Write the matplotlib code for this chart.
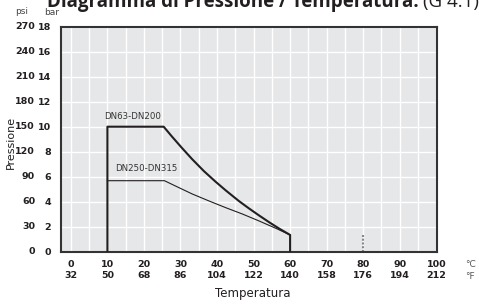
import matplotlib.pyplot as plt

# data
bar_ticks = [0, 2, 4, 6, 8, 10, 12, 14, 16, 18]
psi_labels = ['0', '30', '60', '90', '120', '150', '180', '210', '240', '270']
temp_c = [0, 10, 20, 30, 40, 50, 60, 70, 80, 90, 100]
temp_f = ['32', '50', '68', '86', '104', '122', '140', '158', '176', '194', '212']

# DN63-DN200 curve (°C, bar)
dn63_t = [10, 10, 25.4, 27.7, 30.4, 33.2, 36.4, 39.6, 42.4, 46.0, 48.8, 51.5, 54.3, 57.0, 60, 60]
dn63_p = [0, 10, 10, 9.2, 8.3, 7.4, 6.45, 5.6, 4.9, 4.05, 3.45, 2.9, 2.35, 1.85, 1.34, 0]
# DN250-DN315 curve (°C, bar)
dn250_t = [10, 25.6, 28.6, 33.2, 37.8, 42.4, 46.9, 51.5, 56.1, 60]
dn250_p = [5.68, 5.68, 5.26, 4.62, 4.06, 3.52, 3.02, 2.46, 1.87, 1.34]

fig = plt.figure(figsize=(4.79, 3.04), dpi=100)
ax = fig.add_axes([61 / 479, 1 - 251.7 / 304, 376 / 479, 225 / 304])
ax.set_facecolor('#e6e7e8')

ax.set_xlim(-2.7, 100.2)
ax.set_ylim(0, 18)

# white grid every 5 °C and every 2 bar
for t in range(0, 101, 5):
    ax.axvline(t, color='white', linewidth=1.0, zorder=1)
for b in bar_ticks:
    ax.axhline(b, color='white', linewidth=1.0, zorder=1)

line_color = '#231f20'
ax.plot(dn63_t, dn63_p, color=line_color, linewidth=1.5, zorder=3,
        solid_joinstyle='round')
ax.plot(dn250_t, dn250_p, color=line_color, linewidth=0.8, zorder=3,
        solid_joinstyle='round')
ax.plot([80, 80], [0, 1.3], color='#888888', linewidth=1.5,
        linestyle=(0, (1, 0.8)), zorder=2)

ax.text(9.0, 10.85, 'DN63-DN200', fontsize=6.2, color='#333333', va='center', ha='left')
ax.text(12.2, 6.65, 'DN250-DN315', fontsize=6.2, color='#333333', va='center', ha='left')

for s in ax.spines.values():
    s.set_color('#333333')
    s.set_linewidth(1.5)

ax.set_xticks(temp_c)
ax.set_xticklabels([f'{c}\n{f}' for c, f in zip(temp_c, temp_f)],
                   fontsize=6.8, fontweight='bold', linespacing=1.3)
ax.set_yticks(bar_ticks)
ax.set_yticklabels([str(b) for b in bar_ticks], fontsize=6.8, fontweight='bold')
ax.tick_params(length=0, pad=7, colors='#231f20')
ax.tick_params(axis='x', pad=6)

for b, p in zip(bar_ticks, psi_labels):
    ax.annotate(p, xy=(0, b), xycoords=('axes fraction', 'data'),
                xytext=(-26, 0), textcoords='offset pixels',
                ha='right', va='center', fontsize=6.8, fontweight='bold', color='#231f20')

fig.text(22 / 479, 1 - 12 / 304, 'psi', fontsize=6.5, color='#444444', ha='center', va='center')
fig.text(52 / 479, 1 - 12.5 / 304, 'bar', fontsize=6.5, color='#444444', ha='center', va='center')
fig.text(470 / 479, 1 - 264.5 / 304, '°C', fontsize=6.5, color='#555555', ha='center', va='center')
fig.text(470 / 479, 1 - 276.5 / 304, '°F', fontsize=6.5, color='#555555', ha='center', va='center')

fig.text(11 / 479, 1 - 142 / 304, 'Pressione', fontsize=8, rotation=90,
         ha='center', va='center', color='#231f20')
fig.text(253 / 479, 1 - 293 / 304, 'Temperatura', fontsize=8.5,
         ha='center', va='center', color='#231f20')

t1 = fig.text(47 / 479, 1 - 6.5 / 304, 'Diagramma di Pressione / Temperatura.',
              fontsize=13.5, fontweight='bold', ha='left', va='baseline',
              color='#231f20', family='Open Sans')
fig.canvas.draw()
bb = t1.get_window_extent()
fig.text(bb.x1 / 479 + 4 / 479, 1 - 6.5 / 304, '(G 4.1)', fontsize=13.5,
         ha='left', va='baseline', color='#231f20', family='Open Sans')

fig.savefig('out.png', dpi=100)
